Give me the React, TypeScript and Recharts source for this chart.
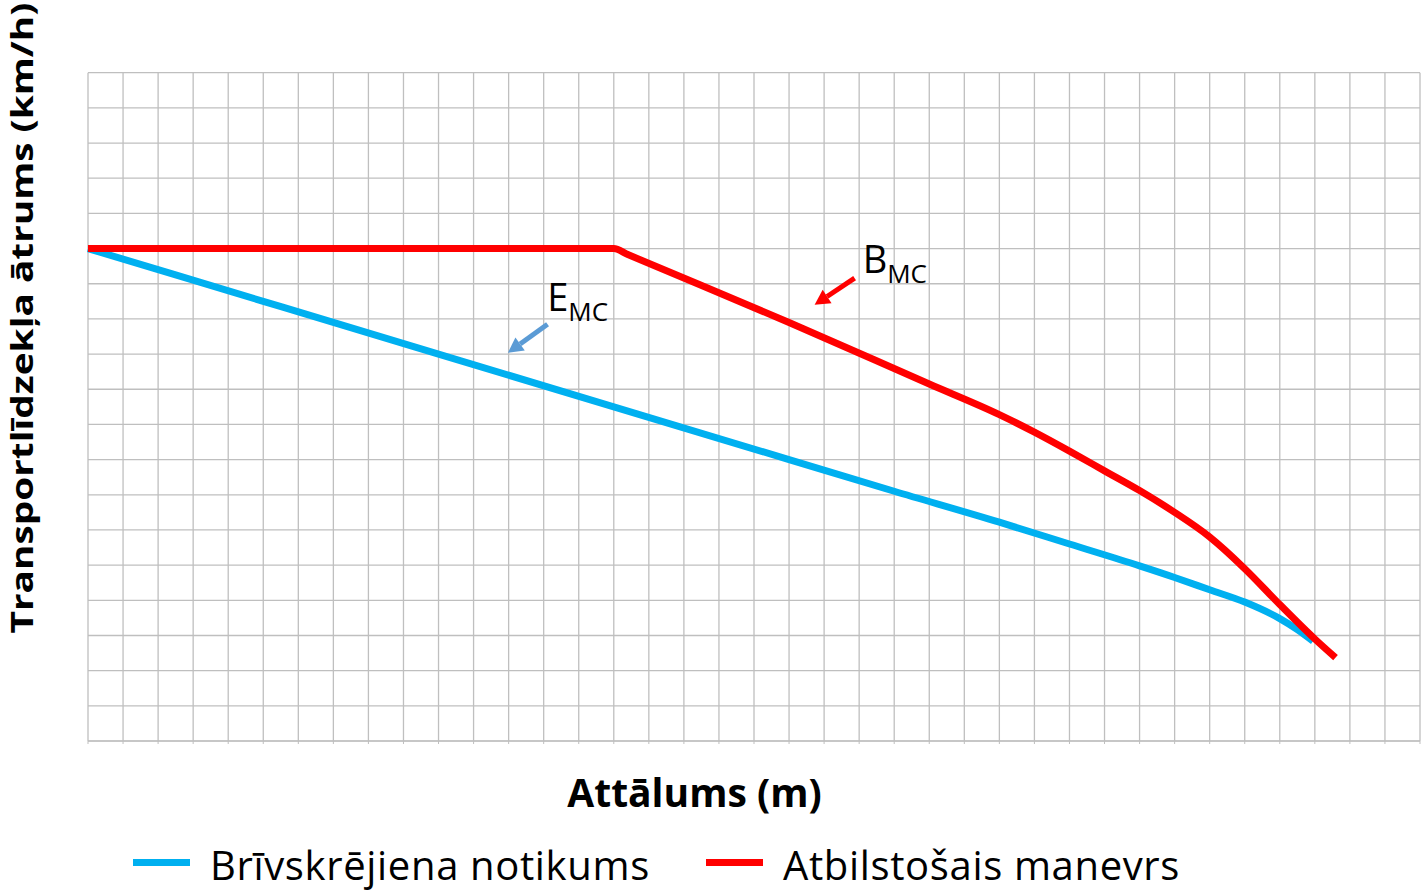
import React from 'react';
import { LineChart, Line, XAxis, YAxis, CartesianGrid, Legend, ReferenceLine, ReferenceDot } from 'recharts';

// grid ticks (one per cell, no labels shown)
const xTicks = [0, 1, 2, 3, 4, 5, 6, 7, 8, 9, 10, 11, 12, 13, 14, 15, 16, 17, 18, 19, 20, 21, 22, 23, 24, 25, 26, 27, 28, 29, 30, 31, 32, 33, 34, 35, 36, 37, 38];
const yTicks = [0, 1, 2, 3, 4, 5, 6, 7, 8, 9, 10, 11, 12, 13, 14, 15, 16, 17, 18, 19];

// Brīvskrējiena notikums (E_MC)
const freeRunX = [0, 5, 10, 15, 20, 23, 26, 28, 30, 31, 32, 33, 34, 34.5, 34.95];
const freeRunY = [14, 12.5, 11.0, 9.5, 8.0, 7.1, 6.22, 5.6, 4.98, 4.65, 4.3, 3.95, 3.48, 3.17, 2.84];

// Atbilstošais manevrs (B_MC)
const maneuverX = [0, 15, 15.4, 20, 24, 26, 27, 28, 29, 30, 31, 32, 33, 34, 35, 35.59];
const maneuverY = [14, 14, 13.83, 11.9, 10.15, 9.28, 8.78, 8.24, 7.68, 7.12, 6.5, 5.8, 4.9, 3.88, 2.9, 2.37];

const legendOrder = ['Brīvskrējiena notikums', 'Atbilstošais manevrs'];

const freeRunData = freeRunX.map((x, i) => ({ x, v: freeRunY[i] }));
const maneuverData = maneuverX.map((x, i) => ({ x, v: maneuverY[i] }));

const BLUE = '#00B0F0';
const RED = '#FF0000';
const FONT = '"Open Sans", sans-serif';

const arrowShape = (color: string) => (props: any) => {
  const { x1, y1, x2, y2 } = props;
  const dx = x2 - x1;
  const dy = y2 - y1;
  const len = Math.sqrt(dx * dx + dy * dy);
  const ux = dx / len;
  const uy = dy / len;
  const head = 15;
  const half = 8;
  const bx = x2 - ux * head;
  const by = y2 - uy * head;
  return (
    <g>
      <line x1={x1} y1={y1} x2={bx} y2={by} stroke={color} strokeWidth={5} />
      <polygon
        points={`${x2},${y2} ${bx - uy * half},${by + ux * half} ${bx + uy * half},${by - ux * half}`}
        fill={color}
      />
    </g>
  );
};

const subLabel = (main: string, sub: string) => (props: any) => (
  <text x={props.cx} y={props.cy} fontFamily={FONT} fontSize={38} fill="#000">
    {main}
    <tspan fontSize={26} dy={10.6}>{sub}</tspan>
  </text>
);

const legendLefts = [133, 706];

const renderLegend = (props: any) => {
  const items = [...(props.payload || [])].sort(
    (a: any, b: any) => legendOrder.indexOf(a.value) - legendOrder.indexOf(b.value)
  );
  return (
    <div style={{ position: 'relative', height: 48 }}>
      {items.map((entry: any, i: number) => (
        <div key={i} style={{ position: 'absolute', left: legendLefts[i], top: 0, display: 'flex', alignItems: 'flex-start', height: 48 }}>
          <span style={{ display: 'inline-block', width: 57, height: 7, marginTop: 18.5, background: entry.color, marginRight: 20 }} />
          <span style={{ fontFamily: FONT, fontSize: 40, lineHeight: '48px', letterSpacing: 0.65, color: '#000', whiteSpace: 'nowrap' }}>
            {entry.value}
          </span>
        </div>
      ))}
    </div>
  );
};

export default function App() {
  return (
    <div style={{ position: 'absolute', left: 0, top: 0, width: 1421, height: 892, background: '#fff' }}>
      <LineChart width={1421} height={892} margin={{ top: 72.7, right: 1, bottom: 148, left: 88 }}>
        <CartesianGrid stroke="#BFBFBF" strokeWidth={1.3} />
        <XAxis
          type="number"
          dataKey="x"
          domain={[0, 38]}
          ticks={xTicks}
          interval={0}
          tickFormatter={() => ''}
          tickSize={3}
          height={3}
          stroke="#BFBFBF"
        />
        <YAxis type="number" domain={[0, 19]} ticks={yTicks} interval={0} hide />
        <Line data={freeRunData} dataKey="v" name="Brīvskrējiena notikums" type="monotone" stroke={BLUE} strokeWidth={7} dot={false} isAnimationActive={false} />
        <Line data={maneuverData} dataKey="v" name="Atbilstošais manevrs" type="monotone" stroke={RED} strokeWidth={7} dot={false} isAnimationActive={false} />
        <ReferenceLine segment={[{ x: 13.11, y: 11.85 }, { x: 11.98, y: 11.04 }]} shape={arrowShape('#5B9BD5')} />
        <ReferenceLine segment={[{ x: 21.87, y: 13.16 }, { x: 20.73, y: 12.4 }]} shape={arrowShape(RED)} />
        <ReferenceDot x={13.1} y={12.23} shape={subLabel('E', 'MC')} />
        <ReferenceDot x={22.1} y={13.31} shape={subLabel('B', 'MC')} />
        <Legend
          layout="horizontal"
          verticalAlign="middle"
          align="center"
          wrapperStyle={{ position: 'absolute', left: 0, top: 840.5, width: 1421, height: 48 }}
          content={renderLegend}
        />
      </LineChart>
      <div
        style={{
          position: 'absolute', left: 694.5, top: 792, fontFamily: FONT, fontWeight: 700,
          fontSize: 39, color: '#000', whiteSpace: 'nowrap', lineHeight: '50px',
          transform: 'translate(-50%, -50%)',
        }}
      >
        Attālums (m)
      </div>
      <div
        style={{
          position: 'absolute', left: 21, top: 318, fontFamily: FONT, fontWeight: 700,
          fontSize: 31, color: '#000', whiteSpace: 'nowrap', lineHeight: '42px',
          transform: 'translate(-50%, -50%) rotate(-90deg) scaleX(1.25)',
        }}
      >
        Transportlīdzekļa ātrums (km/h)
      </div>
    </div>
  );
}
